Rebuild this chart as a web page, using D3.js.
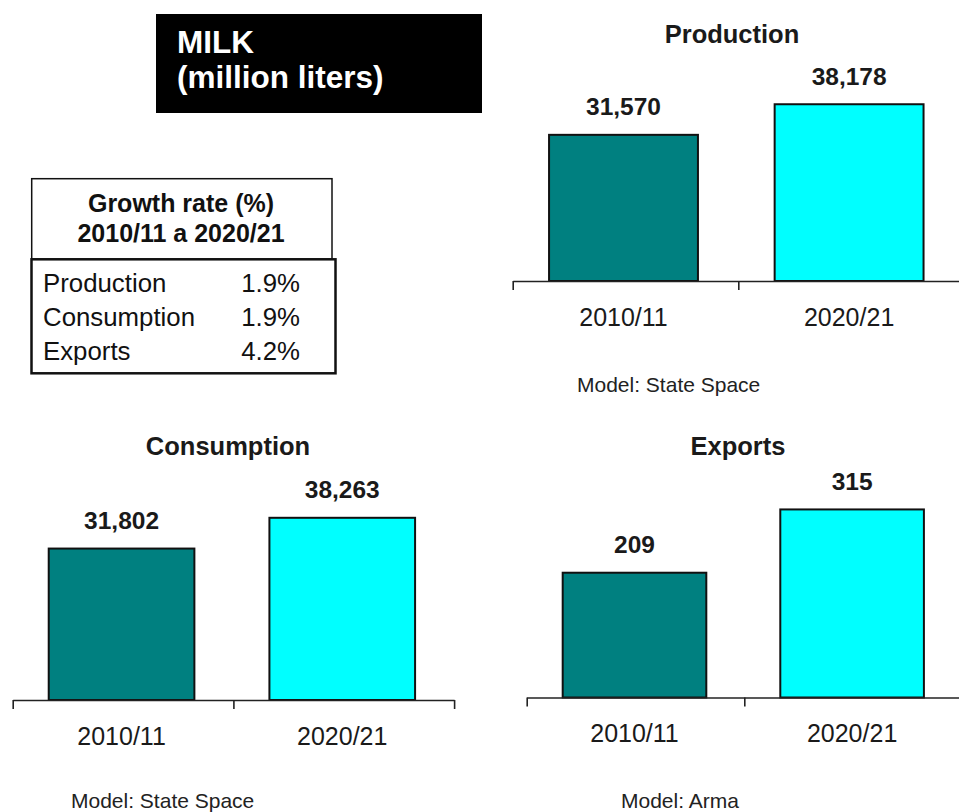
<!DOCTYPE html>
<html>
<head>
<meta charset="utf-8">
<script src="https://cdn.jsdelivr.net/npm/d3@7"></script>
<style>
  body { margin: 0; background: #fff; }
  svg { display: block; font-family: "Liberation Sans", Arial, sans-serif; }
</style>
</head>
<body>
<div id="chart"></div>
<script>
/* DATA */

var categories = ["2010/11", "2020/21"];
var production = [31570, 38178];
var consumption = [31802, 38263];
var exportsData = [209, 315];
var panelTitles = ["Production", "Consumption", "Exports"];
var panelModels = ["State Space", "State Space", "Arma"];

var growthLabels = ["Production", "Consumption", "Exports"];
var growthRates = [1.9, 1.9, 4.2];

var barColors = ["#008080", "#00ffff"];

/* LAYOUT */

var w = 959;
var h = 812;
var plotH = 200;

var panels = [
  {values: production,  x0: 512.7, step: 225.6, shift: -2,   axisY: 281,   yMax: 43200, titleX: 732, titleY: 43,  modelX: 577, modelY: 392},
  {values: consumption, x0: 12.7,  step: 220.7, shift: -1.5, axisY: 700,   yMax: 42000, titleX: 228, titleY: 455, modelX: 71,  modelY: 808},
  {values: exportsData, x0: 526.7, step: 217.6, shift: -1,   axisY: 697.5, yMax: 335,   titleX: 738, titleY: 455, modelX: 621, modelY: 808}
];

var svg = d3.select("#chart").append("svg")
            .attr("width", w)
            .attr("height", h);

/* TITLE BOX */

svg.append("rect")
   .attr("x", 156).attr("y", 14)
   .attr("width", 326).attr("height", 99)
   .style("fill", "#000");

svg.append("text")
   .attr("x", 177).attr("y", 53)
   .style("fill", "#fff").style("font-weight", "bold").style("font-size", "31.5px")
   .text("MILK");

svg.append("text")
   .attr("x", 177).attr("y", 88)
   .style("fill", "#fff").style("font-weight", "bold").style("font-size", "31.5px")
   .text("(million liters)");

/* GROWTH TABLE */

var table = svg.append("g");

table.append("rect")
     .attr("x", 31.7).attr("y", 178.7)
     .attr("width", 300.3).attr("height", 80.6)
     .style("fill", "none").style("stroke", "#111").style("stroke-width", 1.5);

table.append("rect")
     .attr("x", 31.5).attr("y", 259.3)
     .attr("width", 304).attr("height", 114)
     .style("fill", "none").style("stroke", "#111").style("stroke-width", 2.5);

table.append("text")
     .attr("x", 181).attr("y", 212)
     .attr("text-anchor", "middle")
     .style("font-weight", "bold").style("font-size", "25px").style("fill", "#111")
     .text("Growth rate (%)");

table.append("text")
     .attr("x", 181).attr("y", 242)
     .attr("text-anchor", "middle")
     .style("font-weight", "bold").style("font-size", "25px").style("fill", "#111")
     .text("2010/11 a 2020/21");

var rowY = d3.scalePoint()
             .domain(growthLabels)
             .range([292, 360]);

table.selectAll("text.rowLabel")
     .data(growthLabels)
     .enter().append("text")
     .attr("class", "rowLabel")
     .attr("x", 43)
     .attr("y", function(d){ return rowY(d); })
     .style("font-size", "25.8px").style("fill", "#111")
     .text(function(d){ return d; });

table.selectAll("text.rowValue")
     .data(growthRates)
     .enter().append("text")
     .attr("class", "rowValue")
     .attr("x", 300)
     .attr("y", function(d, i){ return rowY(growthLabels[i]); })
     .attr("text-anchor", "end")
     .style("font-size", "25.8px").style("fill", "#111")
     .text(function(d){ return d3.format(".1f")(d) + "%"; });

/* BAR PANELS */

function drawPanel(p, i){

  var g = svg.append("g");

  var x = d3.scaleBand()
            .domain(categories)
            .range([p.x0 + p.shift, p.x0 + p.shift + categories.length * p.step])
            .paddingInner(0.34)
            .paddingOuter(0.17);

  var xTicks = d3.scaleLinear()
                 .domain([0, categories.length])
                 .range([p.x0, p.x0 + categories.length * p.step]);

  var y = d3.scaleLinear()
            .domain([0, p.yMax])
            .range([p.axisY, p.axisY - plotH]);

  g.append("text")
   .attr("x", p.titleX).attr("y", p.titleY)
   .attr("text-anchor", "middle")
   .style("font-weight", "bold").style("font-size", "25.5px").style("fill", "#1a1a1a")
   .text(panelTitles[i]);

  g.selectAll("rect.bar")
   .data(p.values)
   .enter().append("rect")
   .attr("class", "bar")
   .attr("x", function(d, j){ return x(categories[j]); })
   .attr("y", function(d){ return y(d); })
   .attr("width", x.bandwidth())
   .attr("height", function(d){ return y(0) - y(d); })
   .style("fill", function(d, j){ return barColors[j]; })
   .style("stroke", "#111")
   .style("stroke-width", 2);

  g.selectAll("text.value")
   .data(p.values)
   .enter().append("text")
   .attr("class", "value")
   .attr("x", function(d, j){ return x(categories[j]) + x.bandwidth() / 2; })
   .attr("y", function(d){ return y(d) - 19.5; })
   .attr("text-anchor", "middle")
   .style("font-weight", "bold").style("font-size", "24.5px").style("fill", "#1a1a1a")
   .text(function(d){ return d3.format(",")(d); });

  // boundary ticks + baseline
  var tickAxis = g.append("g")
                  .attr("transform", "translate(0," + p.axisY + ")")
                  .call(d3.axisBottom(xTicks)
                          .tickValues(d3.range(categories.length + 1))
                          .tickFormat("")
                          .tickSizeInner(9)
                          .tickSizeOuter(0));
  tickAxis.selectAll("path, line").style("stroke", "#222").style("stroke-width", 1.6);

  // category labels
  var labelAxis = g.append("g")
                   .attr("transform", "translate(0," + p.axisY + ")")
                   .call(d3.axisBottom(x).tickSize(0).tickPadding(27));
  labelAxis.select(".domain").remove();
  labelAxis.selectAll("text")
           .style("font-family", "\"Liberation Sans\", Arial, sans-serif")
           .style("font-size", "25px")
           .style("fill", "#1a1a1a");

  g.append("text")
   .attr("x", p.modelX).attr("y", p.modelY)
   .style("font-size", "21px").style("fill", "#222")
   .text("Model: " + panelModels[i]);
}

panels.forEach(drawPanel);
</script>
</body>
</html>
